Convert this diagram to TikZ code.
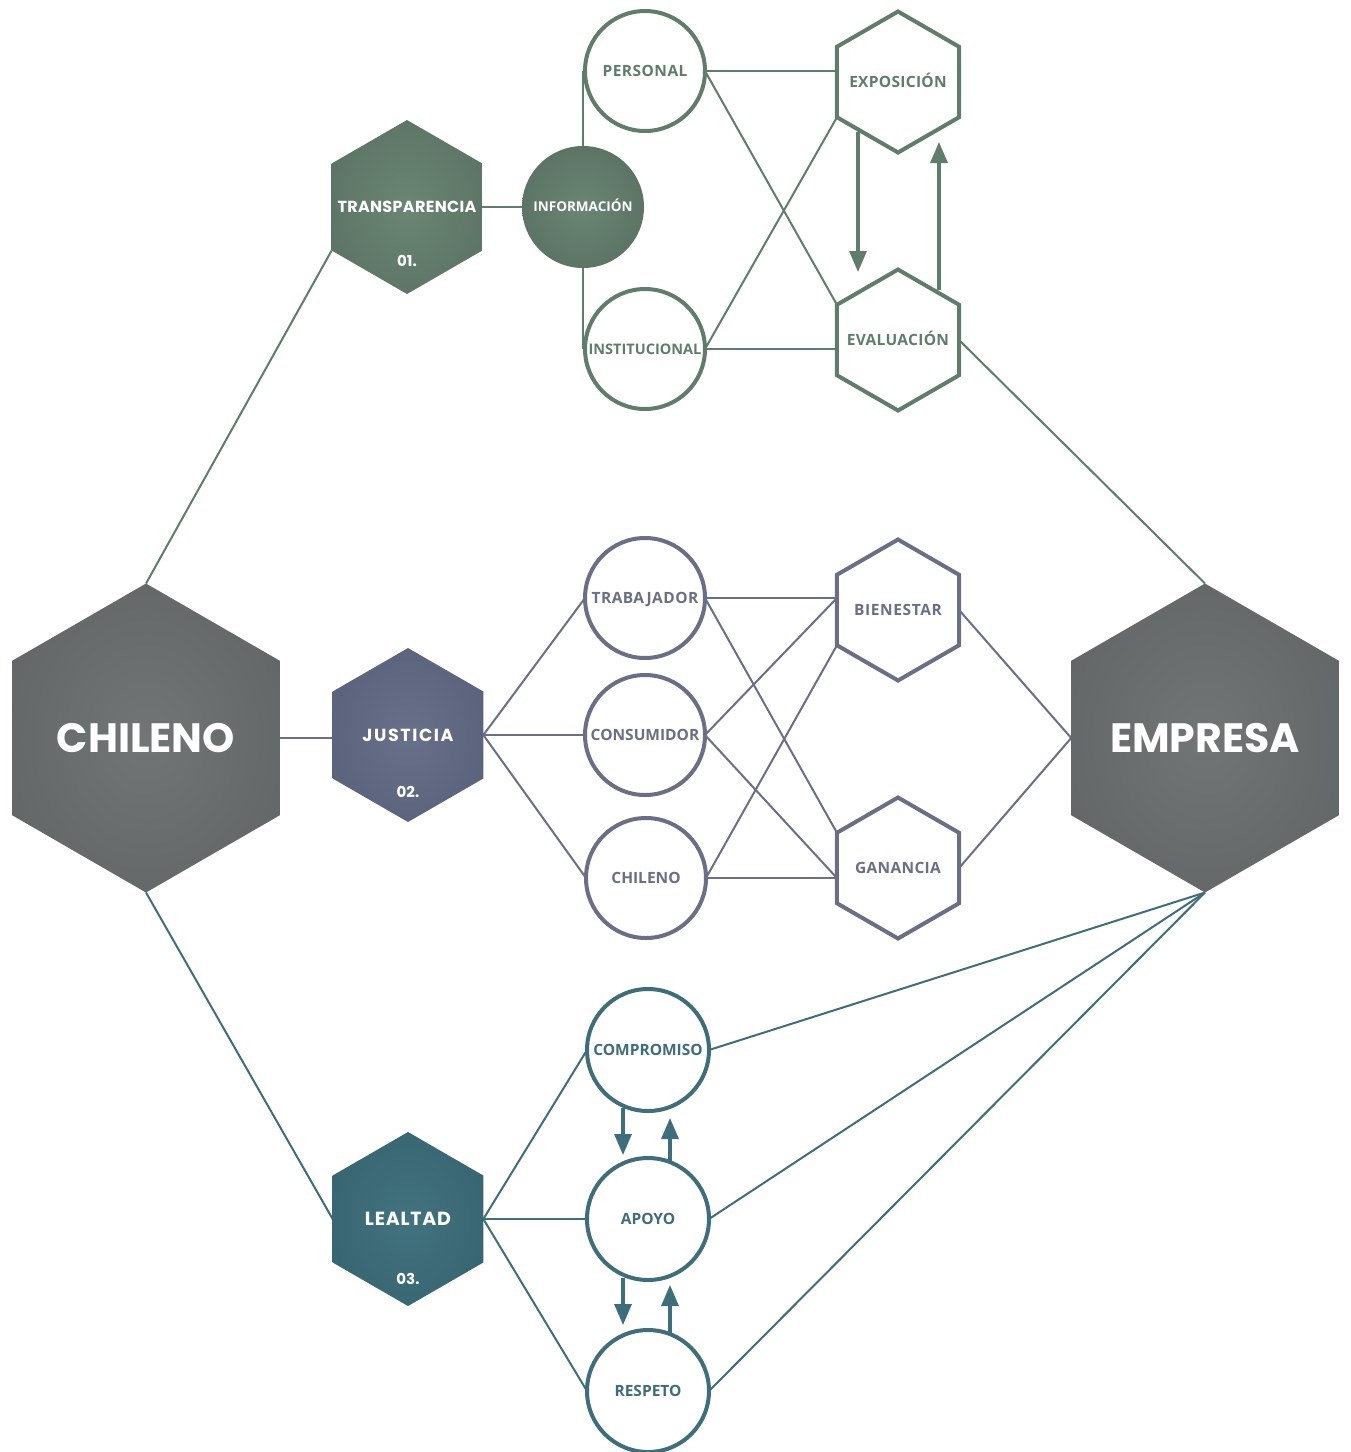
\documentclass[tikz,border=0pt]{standalone}
\usepackage{fontspec}
\setmainfont{Open Sans}
\newfontfamily\headfont{Poppins}
\usetikzlibrary{shapes.geometric,arrows.meta,calc,backgrounds}

% palette
\definecolor{grn}{HTML}{5F7D6B}
\definecolor{sla}{HTML}{6A6F87}
\definecolor{tea}{HTML}{3E6D7C}
\definecolor{greyIn}{HTML}{717575}
\definecolor{greyOut}{HTML}{575A5B}
\definecolor{grnIn}{HTML}{6B8675}
\definecolor{grnOut}{HTML}{4C6255}
\definecolor{slaIn}{HTML}{68708A}
\definecolor{slaOut}{HTML}{4E546E}
\definecolor{teaIn}{HTML}{437380}
\definecolor{teaOut}{HTML}{2C5762}

% soft radial glows for the filled shapes
\pgfdeclareradialshading{glowgrey}{\pgfpoint{0bp}{0bp}}{color(0bp)=(greyIn); color(54bp)=(greyOut); color(75bp)=(greyOut)}
\pgfdeclareradialshading{glowgrn}{\pgfpoint{0bp}{0bp}}{color(0bp)=(grnIn); color(56bp)=(grnOut); color(75bp)=(grnOut)}
\pgfdeclareradialshading{glowgrnc}{\pgfpoint{0bp}{0bp}}{color(0bp)=(grnIn); color(50bp)=(grnOut); color(75bp)=(grnOut)}
\pgfdeclareradialshading{glowsla}{\pgfpoint{0bp}{0bp}}{color(0bp)=(slaIn); color(56bp)=(slaOut); color(75bp)=(slaOut)}
\pgfdeclareradialshading{glowtea}{\pgfpoint{0bp}{0bp}}{color(0bp)=(teaIn); color(56bp)=(teaOut); color(75bp)=(teaOut)}

% label of zero width, so that the shape keeps its set size
\newcommand{\zw}[1]{\makebox[0pt]{#1}}

\begin{document}
\begin{tikzpicture}[x=1pt,y=-1pt,
  hexa/.style={regular polygon, regular polygon sides=6, shape border rotate=90,
    inner sep=0pt, outer sep=0pt},
  bighex/.style={hexa, minimum size=309pt, shading=glowgrey, text=white,
    font=\headfont\bfseries\fontsize{41}{45}\selectfont, text height=28.5pt, text depth=0pt},
  filhex/.style={hexa, minimum size=174pt, text=white,
    font=\headfont\bfseries\fontsize{16}{18}\selectfont, text height=11.5pt, text depth=0pt},
  numlbl/.style={text=white, font=\headfont\bfseries\fontsize{15}{17}\selectfont,
    inner sep=0pt, text height=10.5pt, text depth=0pt},
  outhex/.style={hexa, minimum size=141pt, draw, line width=4pt, fill=white,
    font=\bfseries\fontsize{15.5}{17}\selectfont, text height=11pt, text depth=0pt},
  ring/.style={circle, minimum size=120pt, inner sep=0pt, outer sep=0pt, draw,
    line width=4pt, fill=white,
    font=\bfseries\fontsize{15.5}{17}\selectfont, text height=11pt, text depth=0pt},
  dot/.style={circle, minimum size=122pt, inner sep=0pt, outer sep=0pt,
    shading=glowgrnc, text=white,
    font=\bfseries\fontsize{13.5}{15}\selectfont, text height=9.6pt, text depth=0pt},
  conn/.style={line width=2pt},
  arr/.style={line width=3.2pt, -{Triangle[length=21pt,width=17pt]}},
]
\useasboundingbox (0,0) rectangle (1351,1452);

% hubs
\node[bighex] (chil) at (146,738) {\zw{CHILENO}};
\node[bighex] (emp) at (1205,738) {\zw{EMPRESA}};

% themed hexagons with their numbers
\node[filhex, shading=glowgrn] (trans) at (407,207) {\zw{\addfontfeatures{LetterSpace=2}TRANSPARENCIA}};
\node[numlbl] (trans-n) at ($(trans)+(0,54)$) {01.};
\node[filhex, shading=glowsla, font=\headfont\bfseries\fontsize{17.5}{19}\selectfont, text height=12.3pt] (just) at (408,735) {\zw{\addfontfeatures{LetterSpace=9}JUSTICIA}};
\node[numlbl] (just-n) at ($(just)+(0,57)$) {02.};
\node[filhex, shading=glowtea, font=\headfont\bfseries\fontsize{19}{21}\selectfont, text height=13.5pt] (leal) at (408,1219) {\zw{\addfontfeatures{LetterSpace=4}LEALTAD}};
\node[numlbl] (leal-n) at ($(leal)+(0,60)$) {03.};

% transparency branch
\node[dot] (info) at (583,207) {\zw{INFORMACIÓN}};
\node[ring, draw=grn, text=grn] (pers) at (645,71) {\zw{\addfontfeatures{LetterSpace=3}PERSONAL}};
\node[ring, draw=grn, text=grn, font=\bfseries\fontsize{14.5}{16}\selectfont] (inst) at (645,349) {\zw{INSTITUCIONAL}};
\node[outhex, draw=grn, text=grn] (expo) at (898,82) {\zw{\addfontfeatures{LetterSpace=2}EXPOSICIÓN}};
\node[outhex, draw=grn, text=grn] (eval) at (898,340) {\zw{\addfontfeatures{LetterSpace=2}EVALUACIÓN}};

% justice branch
\node[ring, draw=sla, text=sla] (trab) at (645,598) {\zw{\addfontfeatures{LetterSpace=3}TRABAJADOR}};
\node[ring, draw=sla, text=sla] (cons) at (645,735) {\zw{CONSUMIDOR}};
\node[ring, draw=sla, text=sla] (chil2) at (646,878) {\zw{CHILENO}};
\node[outhex, draw=sla, text=sla] (bien) at (898,610) {\zw{\addfontfeatures{LetterSpace=4}BIENESTAR}};
\node[outhex, draw=sla, text=sla] (gan) at (898,868) {\zw{\addfontfeatures{LetterSpace=2}GANANCIA}};

% loyalty branch
\node[ring, minimum size=122pt, draw=tea, text=tea] (comp) at (648,1050) {\zw{COMPROMISO}};
\node[ring, minimum size=122pt, draw=tea, text=tea] (apo) at (648,1219) {\zw{APOYO}};
\node[ring, minimum size=122pt, draw=tea, text=tea] (resp) at (648,1391) {\zw{RESPETO}};

% entry points on the hexagon sides
\coordinate (bienIn) at (trab.east -| bien.west);
\coordinate (ganIn) at (chil2.east -| gan.west);

\begin{scope}[on background layer]
  \begin{scope}[conn, draw=grn]
    \draw (chil.90) -- (trans.210);
    \draw (trans.east) -- (info.west);
    \draw (info.north) -- (info.north |- pers.west);
    \draw (info.south) -- (info.south |- inst.west);
    \draw (pers.east) -- (pers.east -| expo.west);
    \draw (pers.east) -- (eval.150);
    \draw (inst.east) -- (inst.east -| eval.west);
    \draw (inst.east) -- (expo.210);
    \draw (eval.east) -- (emp.90);
  \end{scope}
  \begin{scope}[conn, draw=sla]
    \draw (chil.east) -- (chil.east -| just.west);
    \draw (just.east) -- (trab.west);
    \draw (just.east) -- (cons.west);
    \draw (just.east) -- (chil2.west);
    \draw (trab.east) -- (bienIn);
    \draw (trab.east) -- (gan.150);
    \draw (cons.east) -- (bienIn);
    \draw (cons.east) -- (ganIn);
    \draw (chil2.east) -- (bien.210);
    \draw (chil2.east) -- (ganIn);
    \draw (bien.east) -- (emp.west);
    \draw (gan.east) -- (emp.west);
  \end{scope}
  \begin{scope}[conn, draw=tea]
    \draw (chil.270) -- (leal.west);
    \draw (leal.east) -- (comp.west);
    \draw (leal.east) -- (apo.west);
    \draw (leal.east) -- (resp.west);
    \draw (emp.270) -- (comp.east);
    \draw (emp.270) -- (apo.east);
    \draw (emp.270) -- (resp.east);
  \end{scope}
\end{scope}

% feedback arrows
\draw[arr, draw=grn, fill=grn] ($(expo)+(-40,50)$) -- ($(eval)+(-40,-68)$);
\draw[arr, draw=grn, fill=grn] ($(eval)+(41,-50)$) -- ($(expo)+(41,60)$);
\draw[arr, draw=tea, fill=tea] ($(comp)+(-25,58)$) -- ($(apo)+(-25,-64)$);
\draw[arr, draw=tea, fill=tea] ($(apo)+(22,-57)$) -- ($(comp)+(22,68)$);
\draw[arr, draw=tea, fill=tea] ($(apo)+(-25,59)$) -- ($(resp)+(-25,-66)$);
\draw[arr, draw=tea, fill=tea] ($(resp)+(22,-58)$) -- ($(apo)+(22,66)$);
\end{tikzpicture}
\end{document}
